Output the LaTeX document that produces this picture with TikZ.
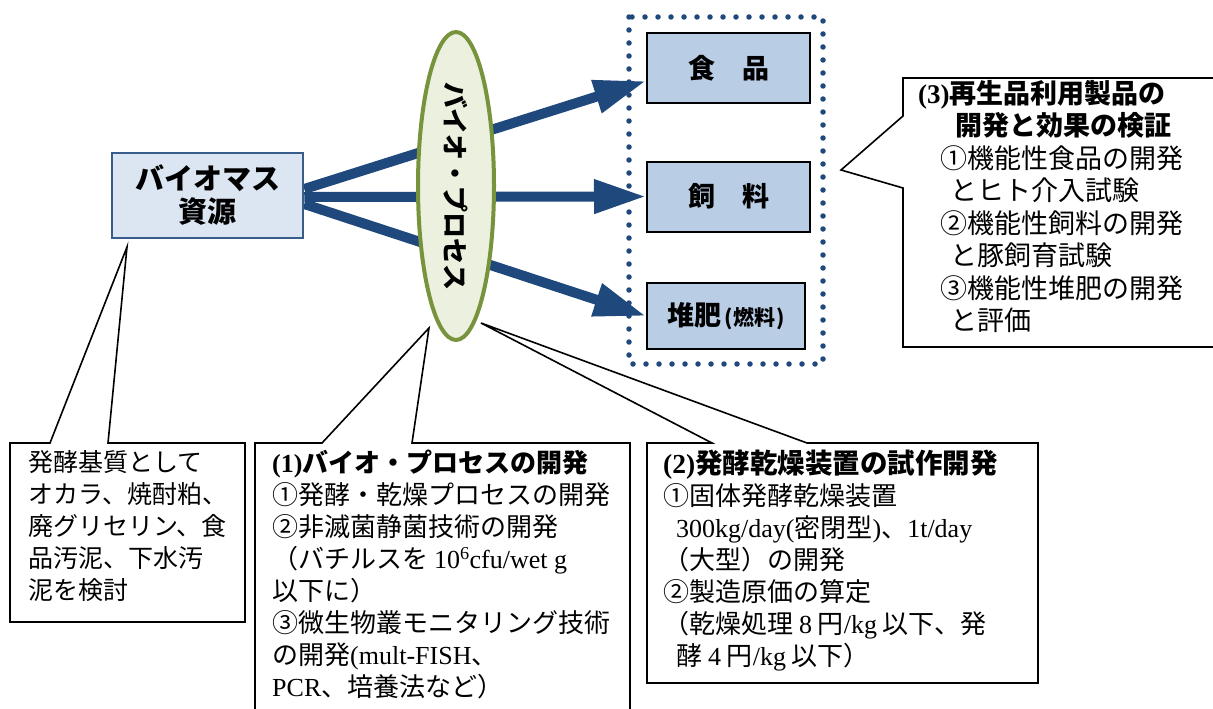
\documentclass[tikz,border=0pt]{standalone}
\usepackage{fontspec}
\setmainfont{Noto Sans CJK JP}
\newfontfamily\lat{Liberation Serif}
\usetikzlibrary{shapes.geometric,arrows.meta}
\definecolor{arrowblue}{HTML}{1F497D}
\definecolor{bioborder}{HTML}{385D8A}
\definecolor{biofill}{HTML}{DCE6F2}
\definecolor{prodfill}{HTML}{B9CDE5}
\definecolor{ellborder}{HTML}{77933C}
\definecolor{ellfill}{HTML}{EBF1DE}
\pgfdeclarelayer{bg}
\pgfsetlayers{bg,main}
\begin{document}
\begin{tikzpicture}[x=1pt,y=-1pt,
  biobox/.style={draw=bioborder,line width=2.5pt,fill=biofill,minimum width=191pt,minimum height=85pt,inner sep=0pt,align=center,font=\bfseries\fontsize{29}{33}\selectfont},
  prodbox/.style={draw=black,line width=2pt,fill=prodfill,minimum width=163pt,minimum height=70pt,inner sep=0pt,font=\bfseries\fontsize{27}{27}\selectfont},
  procell/.style={ellipse,draw=ellborder,line width=4pt,fill=ellfill,minimum width=76pt,minimum height=308pt,inner sep=0pt,font=\bfseries\fontsize{26}{26}\selectfont},
  bigarrow/.style={draw=arrowblue,line width=10pt,-{Triangle[length=52pt,width=32pt]}},
  callout/.style={draw=black,line width=1.6pt,fill=white,line join=miter},
  txt/.style={anchor=north west,inner sep=0pt,align=left,font=\fontsize{25}{32}\selectfont},
  dotframe/.style={draw=arrowblue,line width=5.5pt,line cap=round,dash pattern=on 0pt off 13pt}
]
\useasboundingbox (0,0) rectangle (1213,709);

% main nodes
\node[biobox] (bio) at (207.5,195.5) {バイオマス\\資源};
\node[prodbox] (food) at (728.5,68) {食\hspace{27pt}品};
\node[prodbox] (feed) at (728.5,196.5) {飼\hspace{27pt}料};
\node[prodbox,minimum width=158pt,minimum height=66pt] (comp) at (726,316) {堆肥{\fontsize{21}{21}\selectfont\hspace{3pt}(\hspace{1pt}燃料\hspace{1pt})}};

% arrows behind
\begin{pgfonlayer}{bg}
\fill[white] (0,0) rectangle (1213,709);
\draw[bigarrow] ([yshift=6.5pt]bio.east) -- ([yshift=-13pt]food.west);
\draw[bigarrow] ([yshift=-1.5pt]bio.east) -- (feed.west);
\draw[bigarrow] ([yshift=-8.5pt]bio.east) -- (comp.west);
\end{pgfonlayer}

\node[procell] (proc) at (456,186) {\rotatebox{-90}{バイオ・プロセス}};

% dotted frame
\draw[dotframe] (629,17) rectangle (823,364);

% callout tips
\coordinate (tipA) at (127,247);
\coordinate (tip1) at (429,328);
\coordinate (tip2) at (481,323);
\coordinate (tip3) at (841,170);

% callout outlines
\draw[callout] (10,443) -- (50,443) -- (tipA) -- (108,443) -- (245,443) -- (245,622) -- (10,622) -- cycle;
\draw[callout] (255,720) -- (255,443) -- (322,443) -- (tip1) -- (412,443) -- (630,443) -- (630,720);
\draw[callout] (647,443) -- (712,443) -- (tip2) -- (807,443) -- (1038,443) -- (1038,683) -- (647,683) -- cycle;
\draw[callout] (1225,78) -- (903,78) -- (903,116) -- (tip3) -- (903,188) -- (903,347) -- (1225,347);

% callout texts
\node[txt] (tA) at (28,450) {発酵基質として\\オカラ、焼酎粕、\\廃グリセリン、食\\品汚泥、下水汚\\泥を検討};

\node[txt,font=\fontsize{26}{32}\selectfont] (t1) at (272,450) {{\bfseries{\lat (1)}バイオ・プロセスの開発}\\①発酵・乾燥プロセスの開発\\②非滅菌静菌技術の開発\\（バチルスを {\lat 10\textsuperscript{6}cfu/wet g}\\以下に）\\③微生物叢モニタリング技術\\の開発{\lat (mult-FISH}、\\{\lat PCR}、培養法など）};

\node[txt,font=\fontsize{26}{32}\selectfont] (t2) at (663,450) {{\bfseries\fontsize{27.5}{32}\selectfont{\lat (2)}発酵乾燥装置の試作開発}\\①固体発酵乾燥装置\\\hspace*{13pt}{\lat 300kg/day(}密閉型{\lat )}、{\lat 1t/day}\\（大型）の開発\\②製造原価の算定\\（乾燥処理 {\lat 8} 円{\lat /kg} 以下、発\\\hspace*{13pt}酵 {\lat 4} 円{\lat /kg} 以下）};

\node[txt,font=\fontsize{27}{32.5}\selectfont] (t3) at (918,80) {{\bfseries{\lat (3)}再生品利用製品の}\\{\bfseries\hspace*{37pt}開発と効果の検証}\\\hspace*{22pt}①機能性食品の開発\\\hspace*{32pt}とヒト介入試験\\\hspace*{22pt}②機能性飼料の開発\\\hspace*{32pt}と豚飼育試験\\\hspace*{22pt}③機能性堆肥の開発\\\hspace*{32pt}と評価};
\end{tikzpicture}
\end{document}
